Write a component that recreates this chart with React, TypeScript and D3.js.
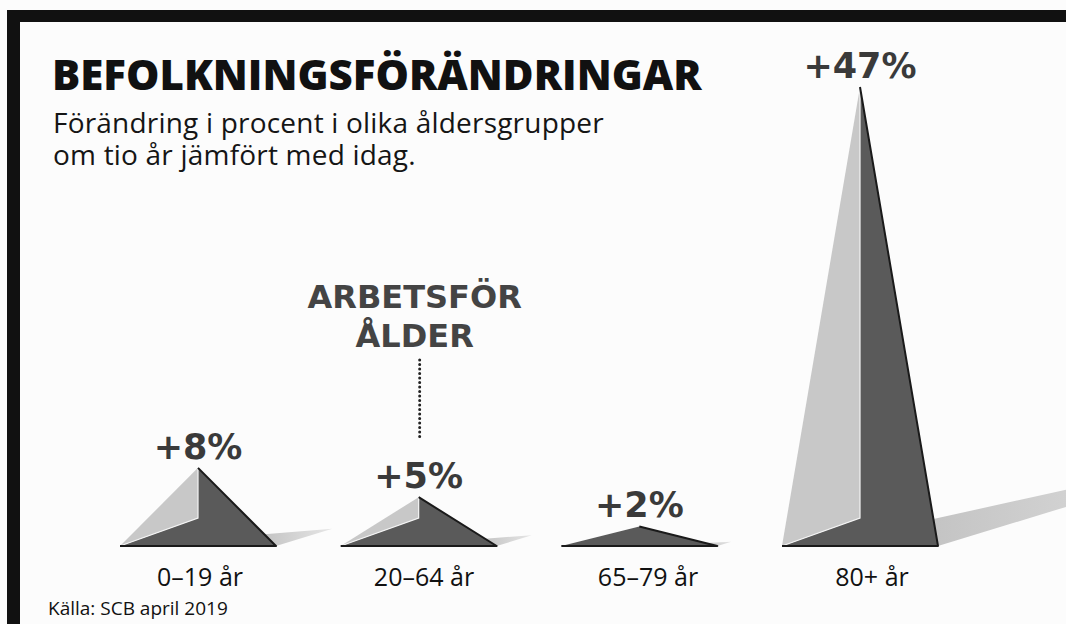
import React, { useEffect, useRef } from 'react';
import * as d3 from 'd3';

const categories = ['0–19 år', '20–64 år', '65–79 år', '80+ år'];
const changes = [8, 5, 2, 47];
const valueLabels = ['+8%', '+5%', '+2%', '+47%'];
const subtitleLines = ['Förändring i procent i olika åldersgrupper', 'om tio år jämfört med idag.'];
const annotationLines = ['ARBETSFÖR', 'ÅLDER'];

const W = 1066;
const H = 624;

const App: React.FC = () => {
  const svgRef = useRef<SVGSVGElement>(null);

  useEffect(() => {
    if (!svgRef.current) return;
    const svg = d3.select(svgRef.current);
    svg.selectAll('*').remove();

    const base = 546;
    const half = 78;
    const frontRise = 28;

    const x = d3.scalePoint<string>().domain(categories).range([198, 860]);
    const xLabel = d3.scalePoint<string>().domain(categories).range([200, 872]);
    const y = d3.scaleLinear().domain([0, 47]).range([base, 87]);

    svg.append('rect').attr('width', W).attr('height', H).attr('fill', '#fcfcfc');

    // frame (top + left bars)
    svg.append('rect').attr('x', 7).attr('y', 10).attr('width', W - 7).attr('height', 12).attr('fill', '#111');
    svg.append('rect').attr('x', 7).attr('y', 10).attr('width', 13).attr('height', H - 10).attr('fill', '#111');

    // title + subtitle
    svg.append('text')
      .attr('x', 52).attr('y', 90)
      .style('font-family', '"Open Sans", sans-serif')
      .style('font-weight', '800')
      .style('font-size', '42px')
      .style('fill', '#111')
      .text('BEFOLKNINGSFÖRÄNDRINGAR');

    svg.selectAll('.sub')
      .data(subtitleLines)
      .enter().append('text')
      .attr('class', 'sub')
      .attr('x', 53)
      .attr('y', (_, i) => 133 + i * 32)
      .style('font-family', '"Open Sans", sans-serif')
      .style('font-size', '28px')
      .style('letter-spacing', '0.2px')
      .style('fill', '#151515')
      .text(d => d);

    const defs = svg.append('defs');
    const grad = defs.append('linearGradient').attr('id', 'shadowGrad');
    grad.append('stop').attr('offset', '0%').attr('stop-color', '#c4c4c4');
    grad.append('stop').attr('offset', '100%').attr('stop-color', '#e6e6e6');

    const rows = categories.map((c, i) => ({ c, v: changes[i], label: valueLabels[i] }));

    const g = svg.selectAll('.pyr')
      .data(rows)
      .enter().append('g')
      .attr('class', 'pyr');

    const geom = (d: { c: string; v: number }) => {
      const cx = x(d.c) as number;
      const ay = y(d.v);
      const h = base - ay;
      const fy = Math.max(base - frontRise, ay);
      const hs = Math.min(0.15 * h, 27);
      const px = cx + half * (1 - hs / h);
      return {
        L: [cx - half, base], R: [cx + half, base], A: [cx, ay], F: [cx, fy],
        P: [px, base - hs], T: [cx + half + 0.72 * h, base - 0.22 * h],
      };
    };
    const poly = (pts: number[][]) => 'M' + pts.map(p => p.join(',')).join('L') + 'Z';

    // shadow
    g.append('path')
      .attr('d', d => { const q = geom(d); return poly([q.P, q.T, q.R]); })
      .attr('fill', 'url(#shadowGrad)');

    // dark face
    g.append('path')
      .attr('d', d => { const q = geom(d); return poly([q.A, q.R, q.L, q.F]); })
      .attr('fill', '#5a5a5a');

    // light face
    g.append('path')
      .attr('d', d => { const q = geom(d); return poly([q.L, q.A, q.F]); })
      .attr('fill', '#c8c8c8');

    // highlight edge
    g.append('path')
      .attr('d', d => { const q = geom(d); return `M${q.A.join(',')}L${q.F.join(',')}L${q.L.join(',')}`; })
      .attr('fill', 'none')
      .attr('stroke', '#f4f4f4')
      .attr('stroke-width', 1.2)
      .attr('opacity', d => (geom(d).F[1] > geom(d).A[1] ? 1 : 0));

    // dark outline
    g.append('path')
      .attr('d', d => { const q = geom(d); return `M${q.A.join(',')}L${q.R.join(',')}L${q.L.join(',')}`; })
      .attr('fill', 'none')
      .attr('stroke', '#1a1a1a')
      .attr('stroke-width', 2)
      .attr('stroke-linejoin', 'round');

    // value labels
    g.append('text')
      .attr('x', d => x(d.c) as number)
      .attr('y', d => y(d.v) - 9)
      .attr('text-anchor', 'middle')
      .style('font-family', '"DejaVu Sans", sans-serif')
      .style('font-weight', 'bold')
      .style('font-size', '35px')
      .style('fill', '#3a3a3a')
      .text(d => d.label);

    // category labels
    g.append('text')
      .attr('x', d => xLabel(d.c) as number)
      .attr('y', 586)
      .attr('text-anchor', 'middle')
      .style('font-family', '"Open Sans", sans-serif')
      .style('font-size', '25px')
      .style('fill', '#111')
      .text(d => d.c);

    // annotation for working age
    const ax = x(categories[1]) as number;
    svg.selectAll('.ann')
      .data(annotationLines)
      .enter().append('text')
      .attr('class', 'ann')
      .attr('x', ax - 4)
      .attr('y', (_, i) => 308 + i * 39)
      .attr('text-anchor', 'middle')
      .style('font-family', '"DejaVu Sans", sans-serif')
      .style('font-weight', 'bold')
      .style('font-size', '32px')
      .style('fill', '#444')
      .text(d => d);

    svg.append('line')
      .attr('x1', ax + 1).attr('x2', ax + 1)
      .attr('y1', 360).attr('y2', 440)
      .attr('stroke', '#222')
      .attr('stroke-width', 3)
      .attr('stroke-dasharray', '0.1,4.4')
      .attr('stroke-linecap', 'round');

    svg.append('text')
      .attr('x', 48).attr('y', 615)
      .style('font-family', '"Open Sans", sans-serif')
      .style('font-size', '19px')
      .style('fill', '#111')
      .text('Källa: SCB april 2019');
  }, []);

  return (
    <div style={{ position: 'fixed', left: 0, top: 0, width: W, height: H, overflow: 'hidden' }}>
      <svg ref={svgRef} width={W} height={H} viewBox={`0 0 ${W} ${H}`} style={{ display: 'block' }}></svg>
    </div>
  );
};

export default App;
